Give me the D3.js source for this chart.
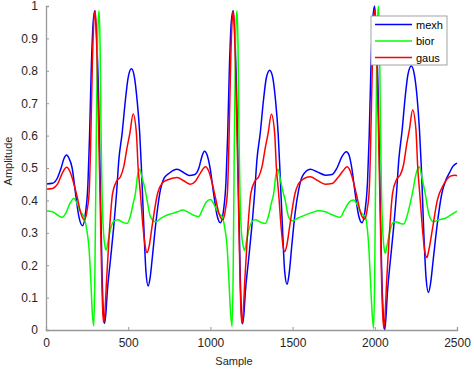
<!DOCTYPE html>
<html>
<head>
<meta charset="utf-8">
<script src="https://cdn.jsdelivr.net/npm/d3@7"></script>
<style>
  body { margin: 0; background: #fff; }
  svg text { font-family: "Liberation Sans", Arial, sans-serif; }
</style>
</head>
<body>
<div id="chart"></div>
<script>
// values: [sample, amplitude]
const mexh = [[0,0.451],[40,0.453],[70,0.47],[92,0.50],[110,0.53],[125,0.54],[140,0.53],[159,0.50],[180,0.42],[200,0.35],[222,0.322],[240,0.36],[255,0.45],[265,0.6],[275,0.8],[287,0.95],[297,0.985],[308,0.9],[320,0.72],[330,0.46],[340,0.2],[348,0.06],[356,0.02],[364,0.05],[372,0.113],[392,0.216],[412,0.319],[429,0.422],[443,0.525],[463,0.607],[483,0.71],[500,0.78],[520,0.806],[538,0.78],[554,0.71],[570,0.607],[580,0.504],[595,0.319],[608,0.18],[621,0.136],[633,0.16],[648,0.23],[668,0.33],[692,0.422],[720,0.47],[747,0.483],[797,0.496],[840,0.485],[870,0.477],[905,0.48],[930,0.50],[948,0.535],[964,0.552],[980,0.54],[998,0.50],[1020,0.42],[1040,0.355],[1061,0.331],[1080,0.37],[1095,0.46],[1105,0.6],[1115,0.8],[1127,0.95],[1138,0.985],[1149,0.9],[1160,0.72],[1170,0.46],[1180,0.2],[1188,0.06],[1196,0.019],[1204,0.05],[1212,0.113],[1232,0.216],[1252,0.319],[1269,0.422],[1283,0.525],[1303,0.607],[1323,0.71],[1341,0.78],[1361,0.802],[1379,0.78],[1396,0.71],[1412,0.607],[1422,0.504],[1438,0.319],[1452,0.18],[1466,0.141],[1478,0.17],[1495,0.26],[1515,0.36],[1536,0.43],[1560,0.475],[1608,0.496],[1650,0.488],[1700,0.478],[1740,0.48],[1770,0.50],[1800,0.535],[1827,0.55],[1843,0.54],[1860,0.50],[1881,0.42],[1901,0.355],[1922,0.331],[1941,0.37],[1956,0.46],[1966,0.6],[1976,0.8],[1988,0.96],[1999,1.0],[2010,0.9],[2021,0.72],[2031,0.46],[2041,0.2],[2050,0.06],[2060,0.0],[2068,0.04],[2076,0.11],[2095,0.216],[2115,0.319],[2132,0.422],[2146,0.525],[2166,0.615],[2185,0.72],[2202,0.79],[2222,0.815],[2240,0.79],[2257,0.72],[2272,0.615],[2283,0.504],[2298,0.3],[2312,0.16],[2326,0.116],[2338,0.14],[2356,0.22],[2378,0.319],[2408,0.422],[2430,0.46],[2453,0.484],[2475,0.505],[2500,0.515]];

const bior = [[0,0.368],[40,0.365],[70,0.355],[98,0.348],[120,0.36],[145,0.39],[169,0.406],[190,0.39],[210,0.365],[230,0.35],[248,0.31],[262,0.25],[272,0.16],[282,0.05],[291,0.012],[298,0.2],[305,0.55],[312,0.85],[318,0.96],[323,0.985],[329,0.88],[335,0.6],[341,0.42],[350,0.3],[358,0.26],[366,0.247],[376,0.27],[392,0.31],[412,0.335],[437,0.34],[465,0.333],[493,0.329],[515,0.355],[530,0.39],[544,0.422],[558,0.48],[570,0.496],[582,0.475],[600,0.44],[615,0.40],[635,0.35],[666,0.334],[700,0.345],[737,0.355],[770,0.36],[800,0.365],[830,0.37],[860,0.365],[895,0.355],[929,0.35],[950,0.37],[975,0.395],[1000,0.403],[1025,0.385],[1050,0.36],[1071,0.35],[1089,0.31],[1101,0.26],[1112,0.16],[1123,0.05],[1132,0.01],[1139,0.2],[1145,0.55],[1152,0.85],[1157,0.96],[1162,0.985],[1168,0.88],[1174,0.6],[1180,0.42],[1189,0.3],[1199,0.26],[1208,0.245],[1218,0.27],[1234,0.31],[1254,0.335],[1274,0.34],[1305,0.333],[1334,0.329],[1355,0.355],[1370,0.39],[1385,0.422],[1399,0.48],[1411,0.496],[1423,0.47],[1440,0.43],[1455,0.40],[1475,0.35],[1497,0.337],[1530,0.345],[1578,0.355],[1620,0.363],[1658,0.368],[1700,0.365],[1730,0.358],[1760,0.352],[1790,0.348],[1815,0.37],[1845,0.395],[1871,0.401],[1895,0.385],[1920,0.36],[1942,0.35],[1955,0.31],[1963,0.26],[1973,0.16],[1984,0.05],[1993,0.005],[2000,0.2],[2006,0.55],[2012,0.85],[2018,0.97],[2023,1.0],[2029,0.88],[2035,0.6],[2041,0.42],[2050,0.29],[2057,0.25],[2064,0.237],[2074,0.26],[2090,0.3],[2108,0.33],[2125,0.334],[2150,0.33],[2175,0.327],[2198,0.355],[2215,0.39],[2232,0.43],[2250,0.48],[2271,0.504],[2287,0.47],[2307,0.42],[2330,0.355],[2357,0.334],[2390,0.34],[2429,0.345],[2465,0.356],[2500,0.367]];

const gaus = [[0,0.435],[40,0.437],[70,0.45],[100,0.485],[125,0.502],[145,0.49],[170,0.45],[190,0.41],[212,0.36],[234,0.34],[250,0.37],[263,0.43],[272,0.58],[282,0.82],[292,0.96],[300,0.985],[310,0.85],[320,0.62],[330,0.38],[340,0.14],[346,0.05],[351,0.023],[358,0.05],[368,0.15],[385,0.3],[405,0.422],[430,0.46],[453,0.473],[473,0.504],[492,0.56],[510,0.607],[530,0.667],[550,0.607],[560,0.504],[574,0.422],[590,0.319],[603,0.26],[615,0.239],[628,0.26],[645,0.319],[679,0.422],[710,0.455],[737,0.463],[797,0.471],[840,0.46],[878,0.45],[910,0.46],[940,0.485],[970,0.504],[990,0.49],[1010,0.455],[1030,0.41],[1052,0.36],[1075,0.34],[1091,0.37],[1104,0.43],[1113,0.58],[1123,0.82],[1133,0.96],[1141,0.985],[1151,0.85],[1161,0.62],[1171,0.38],[1181,0.14],[1187,0.05],[1192,0.02],[1199,0.05],[1209,0.15],[1226,0.3],[1246,0.422],[1271,0.46],[1294,0.473],[1314,0.504],[1333,0.56],[1351,0.607],[1371,0.666],[1391,0.607],[1401,0.504],[1415,0.422],[1430,0.319],[1441,0.262],[1452,0.242],[1465,0.262],[1482,0.319],[1515,0.422],[1550,0.46],[1608,0.473],[1650,0.462],[1699,0.45],[1740,0.452],[1775,0.47],[1805,0.49],[1831,0.504],[1851,0.49],[1871,0.455],[1892,0.41],[1914,0.36],[1938,0.342],[1953,0.37],[1966,0.43],[1975,0.58],[1985,0.82],[1995,0.97],[2002,0.99],[2012,0.85],[2022,0.62],[2032,0.38],[2042,0.14],[2049,0.04],[2055,0.005],[2062,0.04],[2072,0.15],[2089,0.3],[2108,0.422],[2133,0.465],[2156,0.48],[2175,0.51],[2193,0.57],[2211,0.62],[2230,0.679],[2250,0.62],[2261,0.504],[2275,0.41],[2292,0.3],[2305,0.24],[2317,0.224],[2330,0.25],[2350,0.31],[2380,0.4],[2420,0.45],[2460,0.475],[2489,0.478],[2500,0.476]];

const seriesNames = ["mexh", "bior", "gaus"];
const seriesColors = ["#0000ff", "#00ff00", "#ff0000"];
const xTicks = [0, 500, 1000, 1500, 2000, 2500];
const yTicks = [0, 0.1, 0.2, 0.3, 0.4, 0.5, 0.6, 0.7, 0.8, 0.9, 1];

const margin = { top: 6, right: 17, bottom: 44, left: 46 };
const width = 474 - margin.left - margin.right,
    height = 374 - margin.top - margin.bottom;

const svg = d3.select("#chart").append("svg")
    .attr("width", 474)
    .attr("height", 374)
    .append("g")
    .attr("transform", "translate(" + margin.left + "," + margin.top + ")");

const x = d3.scaleLinear().domain([0, 2500]).range([0, width]);
const y = d3.scaleLinear().domain([0, 1]).range([height, 0]);

// lines
const line = d3.line()
    .x(d => x(d[0]))
    .y(d => y(d[1]))
    .curve(d3.curveMonotoneX);

[mexh, bior, gaus].forEach((data, i) => {
    svg.append("path")
        .datum(data)
        .attr("fill", "none")
        .attr("stroke", seriesColors[i])
        .attr("stroke-width", 1.5)
        .attr("d", line);
});

// axes (MATLAB style, inward ticks)
const xAxis = d3.axisBottom(x).tickValues(xTicks).tickSize(-3).tickPadding(8).tickFormat(d3.format("d"));
const yAxis = d3.axisLeft(y).tickValues(yTicks).tickSize(-3).tickPadding(8).tickFormat(d => d === 0 || d === 1 ? d : d3.format(".1f")(d));

const gx = svg.append("g")
    .attr("transform", "translate(0," + height + ")")
    .call(xAxis);
const gy = svg.append("g").call(yAxis);

[gx, gy].forEach(g => {
    g.select(".domain").attr("stroke", "#999").attr("stroke-width", 1.3);
    g.selectAll(".tick line").attr("stroke", "#999");
    g.selectAll(".tick text")
        .attr("fill", "#262626")
        .style("font-size", "12px");
});

// axis titles
svg.append("text")
    .attr("x", 188)
    .attr("y", height + 35)
    .attr("text-anchor", "middle")
    .attr("fill", "#262626")
    .style("font-size", "11px")
    .text("Sample");

svg.append("text")
    .attr("transform", "translate(-34," + 155 + ") rotate(-90)")
    .attr("text-anchor", "middle")
    .attr("fill", "#262626")
    .style("font-size", "11px")
    .text("Amplitude");

// legend
const legend = svg.append("g")
    .attr("transform", "translate(" + (371 - margin.left) + "," + (16 - margin.top) + ")");

legend.append("rect")
    .attr("width", 76)
    .attr("height", 49)
    .attr("fill", "#fff")
    .attr("stroke", "#8c8c8c")
    .attr("stroke-width", 0.8);

seriesNames.forEach((name, i) => {
    const ly = 8.5 + i * 16.5;
    legend.append("line")
        .attr("x1", 4).attr("x2", 41)
        .attr("y1", ly).attr("y2", ly)
        .attr("stroke", seriesColors[i])
        .attr("stroke-width", 1.5);
    legend.append("text")
        .attr("x", 45)
        .attr("y", ly + 4)
        .attr("fill", "#000")
        .style("font-size", "11px")
        .text(name);
});
</script>
</body>
</html>
